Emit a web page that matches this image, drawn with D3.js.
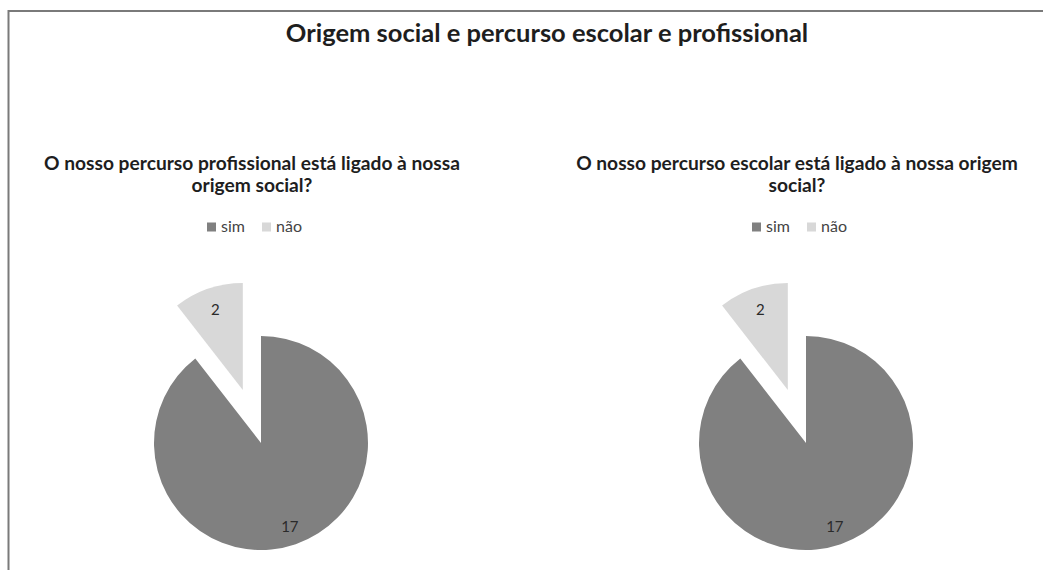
<!DOCTYPE html>
<html lang="pt">
  <head>
    <meta charset="utf-8">
    <title>Origem social e percurso escolar e profissional</title>
    <style>
      body { margin: 0; background: #fff; }
      svg { display: block; font-family: Lato, "Open Sans", sans-serif; }
    </style>
  </head>
  <body>
    <svg width="1043" height="570"></svg>
    <script src="https://d3js.org/d3.v7.min.js"></script>
    <script>
      // data
      var categories = ["sim", "não"];
      var colors = ["#808080", "#d8d8d8"];
      var valuesProfissional = [17, 2];
      var valuesEscolar = [17, 2];
      var mainTitle = "Origem social e percurso escolar e profissional";
      var titleProfissional = ["O nosso percurso profissional está ligado à nossa", "origem social?"];
      var titleEscolar = ["O nosso percurso escolar está ligado à nossa origem", "social?"];

      var svg = d3.select("svg");
      var color = d3.scaleOrdinal().domain(categories).range(colors);

      // frame (left and top edges only)
      svg.append("path")
        .attr("d", "M8.5,570V11H1043")
        .attr("fill", "none")
        .attr("stroke", "#7a7a7a")
        .attr("stroke-width", 2);

      svg.append("text")
        .attr("x", 547)
        .attr("y", 42)
        .attr("text-anchor", "middle")
        .attr("font-size", 25.5)
        .attr("font-weight", "bold")
        .attr("fill", "#1e1e1e")
        .text(mainTitle);

      var pie = d3.pie().sort(null);
      var r = 107;
      var explode = 56;

      function drawPie(cx, values, lines) {
        var g = svg.append("g");

        g.selectAll("text.sub")
          .data(lines)
          .enter()
          .append("text")
          .attr("class", "sub")
          .attr("x", cx - 9)
          .attr("y", (d, i) => 170 + i * 22)
          .attr("text-anchor", "middle")
          .attr("font-size", 19.2)
          .attr("font-weight", "bold")
          .attr("fill", "#1e1e1e")
          .text(d => d);

        // legend
        var legend = g.append("g").attr("transform", "translate(" + (cx - 54) + ",227)");
        var item = legend.selectAll("g")
          .data(categories)
          .enter()
          .append("g")
          .attr("transform", (d, i) => "translate(" + i * 55 + ",0)");
        item.append("rect")
          .attr("x", 0)
          .attr("y", -4.5)
          .attr("width", 9)
          .attr("height", 9)
          .attr("fill", d => color(d));
        item.append("text")
          .attr("x", 14)
          .attr("y", 5)
          .attr("font-size", 16)
          .attr("fill", "#444")
          .text(d => d);

        var arcs = pie(values);
        var arc = d3.arc().innerRadius(0).outerRadius(r);
        var pieG = g.append("g").attr("transform", "translate(" + cx + ",443)");

        var slice = pieG.selectAll("g")
          .data(arcs)
          .enter()
          .append("g")
          .attr("transform", (d, i) => {
            if (i === 0) return null;
            var a = (d.startAngle + d.endAngle) / 2;
            return "translate(" + Math.sin(a) * explode + "," + (-Math.cos(a) * explode) + ")";
          });

        slice.append("path")
          .attr("d", arc)
          .attr("fill", (d, i) => color(categories[i]));

        slice.append("text")
          .attr("transform", d => {
            var a = (d.startAngle + d.endAngle) / 2;
            var k = d.index === 0 ? 0.83 : 0.79;
            return "translate(" + Math.sin(a) * r * k + "," + (-Math.cos(a) * r * k) + ")";
          })
          .attr("dy", "0.35em")
          .attr("text-anchor", "middle")
          .attr("font-size", 15)
          .attr("fill", "#2a2a2a")
          .text(d => d.data);
      }

      drawPie(261, valuesProfissional, titleProfissional);
      drawPie(806, valuesEscolar, titleEscolar);
    </script>
  </body>
</html>
